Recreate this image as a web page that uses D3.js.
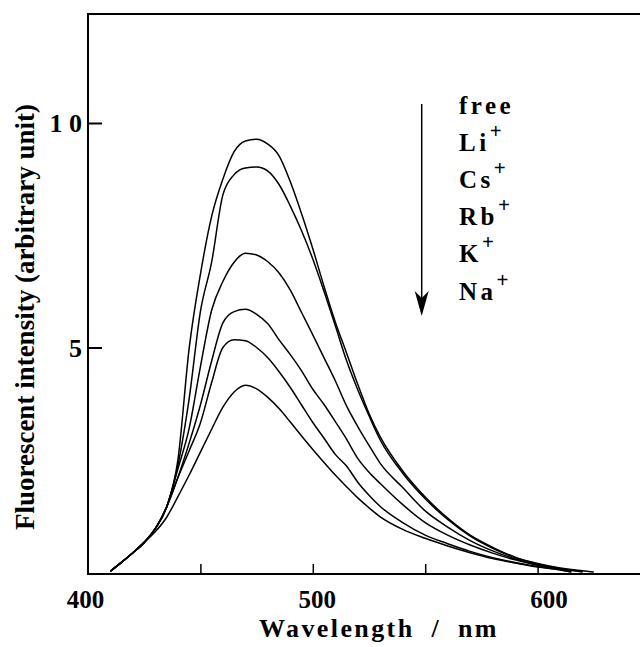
<!DOCTYPE html>
<html>
<head>
<meta charset="utf-8">
<script src="https://cdn.jsdelivr.net/npm/d3@7"></script>
<style>
  html, body { margin: 0; padding: 0; background: #fff; }
  svg { display: block; }
  text { font-family: "Liberation Serif", "Times New Roman", serif; font-weight: bold; fill: #000; }
</style>
</head>
<body>
<svg id="chart" width="640" height="647"></svg>
<script>
// ---- data ----
const wavelengths = [410,415,420,425,430,435,440,445,450,455,460,465,470,475,480,485,490,495,500,505,510,515,520,525,530,540,550,560,570,580,590,600,610,615,620,625];
const freeValues = [0.02,0.22,0.43,0.66,0.97,1.45,2.5,4.98,6.63,7.92,8.75,9.36,9.6,9.64,9.53,9.27,8.69,7.98,7.2,6.36,5.57,4.88,4.18,3.53,3.01,2.25,1.67,1.2,0.82,0.55,0.33,0.19,0.09,0.055,0.03,0];
const liValues   = [0.02,0.22,0.43,0.66,0.97,1.45,2.38,3.86,5.8,6.9,8.4,8.85,9.0,9.02,8.93,8.63,8.15,7.6,6.97,6.25,5.49,4.71,4.06,3.48,2.94,2.2,1.63,1.17,0.8,0.53,0.32,0.18,0.08,0.04,0.01,null];
const csValues   = [0.02,0.22,0.43,0.66,0.97,1.45,2.3,3.2,4.57,5.83,6.47,6.9,7.1,7.06,6.91,6.66,6.28,5.78,5.28,4.77,4.26,3.7,3.24,2.82,2.42,1.88,1.36,1.0,0.7,0.47,0.29,0.16,0.07,0.035,0.0,null];
const rbValues   = [0.02,0.22,0.43,0.66,0.97,1.45,2.11,2.87,3.72,4.7,5.55,5.8,5.85,5.74,5.53,5.17,4.84,4.48,4.07,3.73,3.35,2.96,2.53,2.22,1.97,1.5,1.1,0.82,0.6,0.42,0.27,0.15,0.06,0.02,null,null];
const kValues    = [0.02,0.22,0.43,0.66,0.97,1.45,2.1,2.7,3.32,4.22,5.0,5.17,5.15,5.0,4.77,4.46,4.11,3.72,3.33,2.98,2.62,2.36,2.0,1.71,1.46,1.1,0.82,0.63,0.46,0.32,0.21,0.12,0.05,0.0,null,null];
const naValues   = [0.02,0.22,0.43,0.66,0.9,1.22,1.68,2.16,2.67,3.18,3.67,4.01,4.16,4.08,3.89,3.64,3.34,3.03,2.73,2.44,2.16,1.9,1.65,1.43,1.23,0.95,0.75,0.58,0.43,0.3,0.2,0.11,0.05,0.0,null,null];
const seriesList = [freeValues, liValues, csValues, rbValues, kValues, naValues];

const legendNames = ["free", "Li", "Cs", "Rb", "K", "Na"];
const legendSup   = ["", "+", "+", "+", "+", "+"];

const xTickValues = [450, 500, 550, 600];
const xLabelValues = [400, 500, 600];
const yTickValues = [5, 10];
const yLabelText = ["5", "1 0"];

const xTitle = "Wavelength / nm";
const yTitle = "Fluorescent intensity (arbitrary unit)";

// ---- scales ----
const svg = d3.select("#chart");
const x = d3.scaleLinear().domain([400, 645.55]).range([88, 640]);
const xLabel = d3.scaleLinear().domain([400, 600]).range([85.5, 549]);
const y = d3.scaleLinear().domain([0, 10]).range([572, 123]);
const plotTop = 14, plotBottom = 574;

// ---- frame ----
const frame = svg.append("g").attr("stroke", "#000").attr("stroke-width", 2).attr("fill", "none");
frame.append("line").attr("x1", 88).attr("x2", 88).attr("y1", plotTop - 1).attr("y2", plotBottom + 1);
frame.append("line").attr("x1", 87).attr("x2", 640).attr("y1", plotTop).attr("y2", plotTop);
frame.append("line").attr("x1", 87).attr("x2", 640).attr("y1", plotBottom).attr("y2", plotBottom);

// ---- axes (inward ticks) ----
const xAxis = d3.axisBottom(x).tickValues(xTickValues).tickSizeInner(-10).tickSizeOuter(0).tickFormat("");
const gx = svg.append("g").attr("transform", `translate(0,${plotBottom})`).call(xAxis);
gx.select(".domain").remove();
gx.selectAll(".tick line").attr("stroke", "#000").attr("stroke-width", 1.5);

const yAxis = d3.axisLeft(y).tickValues(yTickValues).tickSizeInner(-14).tickSizeOuter(0).tickFormat("");
const gy = svg.append("g").attr("transform", `translate(88,0)`).call(yAxis);
gy.select(".domain").remove();
gy.selectAll(".tick line").attr("stroke", "#000").attr("stroke-width", 2);

// tick labels
svg.append("g").selectAll("text").data(xLabelValues).join("text")
  .attr("x", d => xLabel(d)).attr("y", 608)
  .attr("text-anchor", "middle").attr("font-size", 25)
  .text(d => d);

svg.append("g").selectAll("text").data(yTickValues).join("text")
  .attr("x", 82).attr("y", d => y(d) + 9)
  .attr("text-anchor", "end").attr("font-size", 26)
  .text((d, i) => yLabelText[i]);

// axis titles
svg.append("text").attr("x", 379).attr("y", 637).attr("text-anchor", "middle")
  .attr("font-size", 26).attr("letter-spacing", 2.4).attr("word-spacing", 8)
  .text(xTitle);
svg.append("text").attr("transform", "translate(34,317) rotate(-90)").attr("text-anchor", "middle")
  .attr("font-size", 27)
  .text(yTitle);

// ---- curves ----
const line = d3.line()
  .defined(d => d[1] !== null)
  .x(d => x(d[0])).y(d => y(d[1]))
  .curve(d3.curveMonotoneX);

svg.append("g").selectAll("path").data(seriesList).join("path")
  .attr("d", vals => line(wavelengths.map((w, i) => [w, vals[i]])))
  .attr("fill", "none").attr("stroke", "#000").attr("stroke-width", 1.5);

// ---- legend arrow + labels ----
const ax = 421.7;
svg.append("line").attr("x1", ax).attr("x2", ax).attr("y1", 104).attr("y2", 300)
  .attr("stroke", "#000").attr("stroke-width", 1.5);
svg.append("path")
  .attr("d", `M${ax},316 L${ax - 7},291 L${ax},298 L${ax + 7},291 Z`)
  .attr("fill", "#000");

const leg = svg.append("g").selectAll("text").data(legendNames).join("text")
  .attr("x", 459).attr("y", (d, i) => 114 + i * 37.1)
  .attr("font-size", 25).attr("letter-spacing", 3.5);
leg.append("tspan").text(d => d);
leg.append("tspan").attr("dy", -13).attr("font-size", 21).attr("letter-spacing", 0)
  .text((d, i) => legendSup[i]);
</script>
</body>
</html>
